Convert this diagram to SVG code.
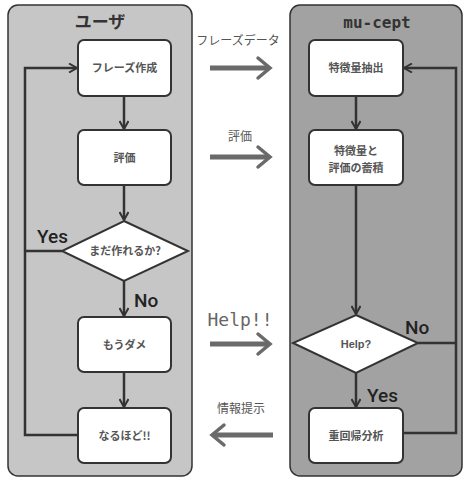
<svg xmlns="http://www.w3.org/2000/svg" width="465" height="478" viewBox="0 0 465 478">
<style>
.panelL{fill:#c6c6c6;stroke:#333;stroke-width:1.5}
.panelR{fill:#a2a2a2;stroke:#333;stroke-width:1.5}
.box{fill:#fff;stroke:#333;stroke-width:2}
.dia{fill:#fff;stroke:#333;stroke-width:2}
.lbl{font-family:"Noto Sans CJK JP","Noto Sans",sans-serif;font-size:11px;fill:#555;font-weight:bold;text-anchor:middle}
.title{font-family:"Noto Sans CJK JP",sans-serif;font-size:17px;font-weight:bold;fill:#333;text-anchor:middle}
.mono{font-family:"DejaVu Sans Mono","Liberation Mono",monospace;text-anchor:middle}
.yn{font-family:"Roboto","Liberation Sans",sans-serif;font-size:19px;fill:#222;font-weight:500}
.mid{font-family:"Noto Sans CJK JP",sans-serif;font-size:12px;fill:#555;text-anchor:middle}
.con{fill:none;stroke:#333;stroke-width:2.5}
.big{fill:none;stroke:#6a6a6a;stroke-width:5}
.bighead{fill:none;stroke:#6a6a6a;stroke-width:3.5;stroke-linecap:round}
</style>
<defs>
<marker id="ah" markerWidth="10" markerHeight="10" refX="9" refY="5" orient="auto" markerUnits="userSpaceOnUse">
<path d="M1,0.5 L9,5 L1,9.5" fill="none" stroke="#333" stroke-width="2"/>
</marker>
</defs>
<g id="panel-user">
<rect class="panelL" x="8" y="5" width="184" height="471" rx="10"/>
<text class="title" x="100" y="28">ユーザ</text>
</g>
<g id="panel-mucept">
<rect class="panelR" x="290" y="5" width="172" height="471" rx="10"/>
<text class="mono" x="377" y="28" font-size="16" font-weight="bold" fill="#333">mu-cept</text>
</g>
<g id="connectors">
<path class="con" d="M124,96 V129" marker-end="url(#ah)"/>
<path class="con" d="M124,185 V220" marker-end="url(#ah)"/>
<path class="con" d="M124,281 V316" marker-end="url(#ah)"/>
<path class="con" d="M124,372 V407" marker-end="url(#ah)"/>
<path class="con" d="M62,251 H25"/>
<path class="con" d="M78,435 H25 V68 H77" marker-end="url(#ah)"/>
<path class="con" d="M356,96 V129" marker-end="url(#ah)"/>
<path class="con" d="M356,185 V314" marker-end="url(#ah)"/>
<path class="con" d="M356,373 V407" marker-end="url(#ah)"/>
<path class="con" d="M418,343 H456"/>
<path class="con" d="M403,433 H456 V68 H404" marker-end="url(#ah)"/>
<path class="big" d="M210,68 H268"/><path class="bighead" d="M258,58 L270,68 L258,78"/>
<path class="big" d="M210,157 H268"/><path class="bighead" d="M258,147 L270,157 L258,167"/>
<path class="big" d="M210,344 H268"/><path class="bighead" d="M258,334 L270,344 L258,354"/>
<path class="big" d="M214,435 H273"/><path class="bighead" d="M224,425 L212,435 L224,445"/>
</g>
<g id="n-phrase"><rect class="box" x="78" y="40" width="93" height="56" rx="6"/><text class="lbl" x="124.5" y="72">フレーズ作成</text></g>
<g id="n-eval"><rect class="box" x="78" y="130" width="93" height="55" rx="6"/><text class="lbl" x="124.5" y="162">評価</text></g>
<g id="n-can"><polygon class="dia" points="124,221 188,251 124,281 62,251"/><text class="lbl" x="125" y="255">まだ作れるか?</text></g>
<g id="n-dame"><rect class="box" x="78" y="317" width="93" height="55" rx="6"/><text class="lbl" x="124.5" y="349">もうダメ</text></g>
<g id="n-naru"><rect class="box" x="78" y="408" width="93" height="55" rx="6"/><text class="lbl" x="124.5" y="440">なるほど!!</text></g>
<g id="n-feat"><rect class="box" x="309" y="40" width="94" height="56" rx="6"/><text class="lbl" x="356" y="72">特徴量抽出</text></g>
<g id="n-store"><rect class="box" x="309" y="130" width="94" height="55" rx="6"/><text class="lbl" x="356" y="155">特徴量と</text><text class="lbl" x="356" y="172">評価の蓄積</text></g>
<g id="n-help"><polygon class="dia" points="356,315 418,343 356,373 293,343"/><text class="lbl" x="356" y="348" style="font-family:'Liberation Sans',sans-serif">Help?</text></g>
<g id="n-reg"><rect class="box" x="309" y="408" width="94" height="55" rx="6"/><text class="lbl" x="356" y="440">重回帰分析</text></g>
<g id="labels">
<text class="yn" x="37" y="243">Yes</text>
<text class="yn" x="134" y="307">No</text>
<text class="yn" x="405" y="334">No</text>
<text class="yn" x="367" y="402">Yes</text>
<text class="mid" x="238" y="45">フレーズデータ</text>
<text class="mid" x="240" y="141">評価</text>
<text class="mono" x="240" y="326" font-size="18" fill="#666">Help!!</text>
<text class="mid" x="241" y="413">情報提示</text>
</g>
</svg>
